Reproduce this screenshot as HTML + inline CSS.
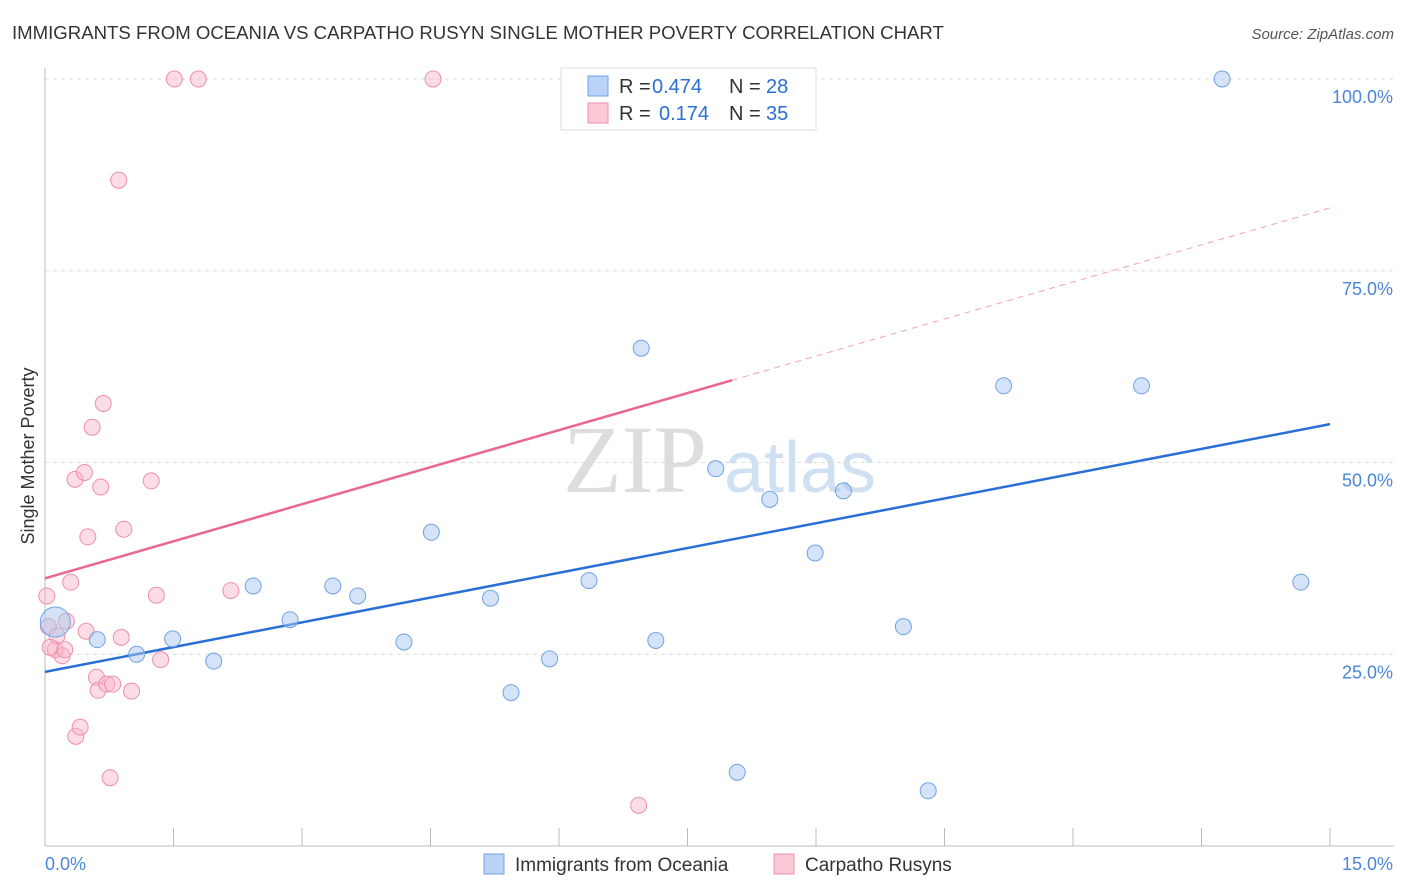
<!DOCTYPE html>
<html><head><meta charset="utf-8"><style>
body{margin:0;background:#fff;font-family:"Liberation Sans",sans-serif;}
#wrap{position:relative;width:1406px;height:892px;overflow:hidden;}
</style></head><body>
<div id="wrap">
<svg id="chart" width="1406" height="892" xmlns="http://www.w3.org/2000/svg" font-family="Liberation Sans, sans-serif">
<text x="12" y="39" font-size="18.6" fill="#333">IMMIGRANTS FROM OCEANIA VS CARPATHO RUSYN SINGLE MOTHER POVERTY CORRELATION CHART</text>
<text x="1394" y="39" font-size="15" fill="#555" font-style="italic" text-anchor="end">Source: ZipAtlas.com</text>
<text x="34" y="456" font-size="18" fill="#333" text-anchor="middle" transform="rotate(-90 34 456)">Single Mother Poverty</text>
<text x="635" y="492" font-size="96" fill="#ddd" font-family="Liberation Serif, serif" text-anchor="middle">ZIP</text>
<text x="800" y="492" font-size="72" fill="#cfe0f3" text-anchor="middle">atlas</text>
<g id="grid"></g><g id="axes"></g><g id="trends"></g><g id="pts"></g>
<g>
<rect x="561" y="68" width="255" height="62" fill="#fff" stroke="#ddd"/>
<rect x="588" y="76" width="20" height="20" fill="#b8d3f5" stroke="#6fa3e6"/>
<text x="619" y="93" font-size="20" fill="#333">R = </text><text x="652" y="93" font-size="20" fill="#2a6fd6">0.474</text>
<text x="729" y="93" font-size="20" fill="#333">N = </text><text x="766" y="93" font-size="20" fill="#2a6fd6">28</text>
<rect x="588" y="103" width="20" height="20" fill="#fbc8d6" stroke="#ee8fab"/>
<text x="619" y="120" font-size="20" fill="#333">R = </text><text x="659" y="120" font-size="20" fill="#2a6fd6">0.174</text>
<text x="729" y="120" font-size="20" fill="#333">N = </text><text x="766" y="120" font-size="20" fill="#2a6fd6">35</text>
</g>
<g>
<rect x="484" y="854" width="20" height="20" fill="#b8d3f5" stroke="#6fa3e6"/>
<text x="515" y="871" font-size="19" fill="#333">Immigrants from Oceania</text>
<rect x="774" y="854" width="20" height="20" fill="#fbc8d6" stroke="#ee8fab"/>
<text x="805" y="871" font-size="19" fill="#333">Carpatho Rusyns</text>
</g>
</svg>
</div>
<script>
const xTicks=[0,1.5,3,4.5,6,7.5,9,10.5,12,13.5,15];
const yTicks=[25,50,75,100];
const yTickLabels=["25.0%","50.0%","75.0%","100.0%"];
const blueX=[0.12,0.61,1.07,1.49,1.97,2.43,2.86,3.36,3.65,4.19,4.51,5.20,5.44,5.89,6.35,6.96,7.13,7.83,8.08,8.46,8.99,9.32,10.02,10.31,11.19,12.80,13.74,14.66];
const blueY=[29.2,26.9,25.0,27.0,24.1,33.9,29.5,33.9,32.6,26.6,40.9,32.3,20.0,24.4,34.6,64.9,26.8,49.2,9.6,45.2,38.2,46.3,28.6,7.2,60.0,60.0,100,34.4];
const pinkX=[0.02,0.04,0.12,0.2,0.25,0.23,0.30,0.36,0.41,0.35,0.46,0.48,0.50,0.55,0.60,0.62,0.65,0.68,0.72,0.76,0.79,0.86,0.89,0.92,1.01,1.24,1.30,1.35,1.51,1.79,2.17,4.53,6.93,0.14,0.06];
const pinkY=[32.6,28.6,25.6,24.8,29.3,25.6,34.4,14.3,15.5,47.8,48.7,28.0,40.3,54.6,22.0,20.3,46.8,57.7,21.1,8.9,21.1,86.8,27.2,41.3,20.2,47.6,32.7,24.3,100,100,33.3,100,5.3,27.4,25.9];
const blueTrend=[22.7,55.0];
const pinkTrend=[34.9,83.2];
const pinkSolidEnd=8.02;
const NS="http://www.w3.org/2000/svg";
const X=v=>45+v/15*1285, Y=v=>846-v*7.67;
function mk(p,t,a){const e=document.createElementNS(NS,t);for(const k in a)e.setAttribute(k,a[k]);document.getElementById(p).appendChild(e);return e;}
yTicks.forEach((t,i)=>{
 const g=mk('grid','line',{x1:45,x2:1394,y1:Y(t),y2:Y(t),stroke:'#ddd','stroke-dasharray':'4,4'});
 
 
 const l=mk('grid','text',{x:1393,y:Y(t)+24,'font-size':18,fill:'#4a86d8','text-anchor':'end'});l.textContent=yTickLabels[i];
 
 
});
const ax=mk('axes','line',{x1:45,x2:1394,y1:846,y2:846,stroke:'#bbb'});


const ay=mk('axes','line',{x1:45,x2:45,y1:68,y2:846,stroke:'#bbb'});


xTicks.forEach(t=>{const e=mk('axes','line',{x1:X(t),x2:X(t),y1:828,y2:846,stroke:'#bbb'});
 
 });
const l0=mk('axes','text',{x:45,y:870,'font-size':18,fill:'#4a86d8'});l0.textContent="0.0%";


const l1=mk('axes','text',{x:1393,y:870,'font-size':18,fill:'#4a86d8','text-anchor':'end'});l1.textContent="15.0%";


const py=x=>pinkTrend[0]+(pinkTrend[1]-pinkTrend[0])*x/15;
const tp=mk('trends','line',{x1:X(0),y1:Y(pinkTrend[0]),x2:X(pinkSolidEnd),y2:Y(py(pinkSolidEnd)),stroke:'#e8688f','stroke-width':2.5});


const tpd=mk('trends','line',{x1:X(pinkSolidEnd),y1:Y(py(pinkSolidEnd)),x2:X(15),y2:Y(pinkTrend[1]),stroke:'#f0a0b8','stroke-width':1,'stroke-dasharray':'6,5'});


const tb=mk('trends','line',{x1:X(0),y1:Y(blueTrend[0]),x2:X(15),y2:Y(blueTrend[1]),stroke:'#2a6fd6','stroke-width':2.5});


pinkX.forEach((x,i)=>{const c=mk('pts','circle',{cx:X(x),cy:Y(pinkY[i]),r:8,fill:'rgba(248,180,200,0.45)',stroke:'#ee8fab','stroke-width':1});
 
 });
blueX.forEach((x,i)=>{const c=mk('pts','circle',{cx:X(x),cy:Y(blueY[i]),r:i==0?15:8,fill:'rgba(170,200,240,0.5)',stroke:'#6fa3e6','stroke-width':1});
 
 });
</script>
</body></html>
